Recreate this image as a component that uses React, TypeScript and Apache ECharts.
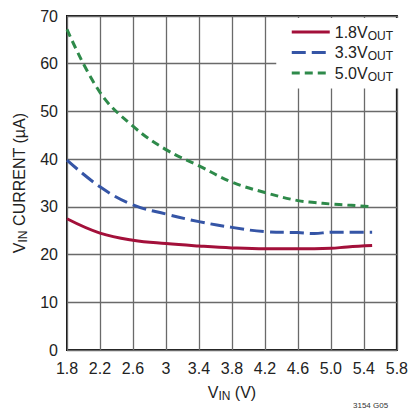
import React, { useEffect, useRef } from "react";
import * as echarts from "echarts";

const xTicks = ["1.8", "2.2", "2.6", "3", "3.4", "3.8", "4.2", "4.6", "5.0", "5.4", "5.8"];
const vin = [1.8, 2.2, 2.6, 3.0, 3.4, 3.8, 4.2, 4.6, 4.8, 5.0, 5.2, 5.5];
const out18 = [27.5, 24.5, 23.0, 22.3, 21.8, 21.4, 21.2, 21.2, 21.2, 21.3, 21.6, 21.9];
const out33 = [39.8, 34.2, 30.4, 28.5, 26.9, 25.7, 24.8, 24.6, 24.4, 24.7, 24.7, 24.7];
const out50 = [67.2, 54.0, 46.9, 42.0, 38.6, 35.2, 33.0, 31.3, 30.9, 30.6, 30.4, 30.0];

const FONT = "'Liberation Sans Narrow', 'Liberation Sans', Arial, sans-serif";

const pairs = (ys: number[]) => vin.map((x, i) => [x, ys[i]]);

export default function App() {
  const ref = useRef<HTMLDivElement>(null);
  useEffect(() => {
    if (!ref.current) return;
    const chart = echarts.init(ref.current, undefined, { renderer: "svg" });
    const rich = {
      a: { fontSize: 16, fontFamily: FONT, color: "#222" },
      s: { fontSize: 12, fontFamily: FONT, color: "#222", padding: [7, 0, 0, 0] },
    };
    chart.setOption({
      animation: false,
      backgroundColor: "#fff",
      grid: {
        left: 67, right: 9, top: 16, bottom: 60,
        show: true, borderColor: "#111", borderWidth: 2, containLabel: false,
      },
      xAxis: {
        type: "value", min: 1.8, max: 5.8, interval: 0.4,
        axisLine: { show: false }, axisTick: { show: false },
        splitLine: { show: true, lineStyle: { color: "#6a6a6a", width: 1.3 } },
        axisLabel: {
          margin: 10, fontSize: 16, fontFamily: FONT, color: "#222",
          formatter: (v: number) => {
            const i = Math.round((v - 1.8) / 0.4);
            return xTicks[i] ?? "";
          },
        },
        name: "{a|V}{s|IN}{a| (V)}",
        nameLocation: "middle", nameGap: 33,
        nameTextStyle: { rich },
      },
      yAxis: {
        type: "value", min: 0, max: 70, interval: 10,
        axisLine: { show: false }, axisTick: { show: false },
        splitLine: { show: true, lineStyle: { color: "#6a6a6a", width: 1.3 } },
        axisLabel: { margin: 9, fontSize: 16, fontFamily: FONT, color: "#222" },
        name: "{a|V}{s|IN}{a| CURRENT (µA)}",
        nameLocation: "middle", nameGap: 34, nameRotate: 90,
        nameTextStyle: { rich },
      },
      legend: {
        right: 10, top: 18, orient: "vertical",
        itemWidth: 38, itemHeight: 12, itemGap: 3,
        backgroundColor: "#fff", padding: [6, 8, 6, 14],
        itemStyle: { opacity: 0 },
        lineStyle: { width: 3 },
        textStyle: { rich },
        formatter: (name: string) => `{a|${name}}{s|OUT}`,
      },
      series: [
        {
          name: "1.8V", type: "line", smooth: 0.4, symbol: "none",
          data: pairs(out18),
          lineStyle: { color: "#a3103a", width: 3 }, itemStyle: { color: "#a3103a" },
        },
        {
          name: "3.3V", type: "line", smooth: 0.4, symbol: "none",
          data: pairs(out33),
          lineStyle: { color: "#3555a6", width: 3, type: [14, 6] }, itemStyle: { color: "#3555a6" },
        },
        {
          name: "5.0V", type: "line", smooth: 0.4, symbol: "none",
          data: pairs(out50),
          lineStyle: { color: "#2e8a4a", width: 3, type: [8, 5] }, itemStyle: { color: "#2e8a4a" },
        },
      ],
      graphic: [
        {
          type: "text", left: 353, top: 401,
          style: { text: "3154 G05", fontSize: 8, fontFamily: FONT, fill: "#333" },
        },
      ],
    });
    return () => chart.dispose();
  }, []);
  return <div ref={ref} style={{ width: 411, height: 410, position: "absolute", left: 0, top: 0 }} />;
}
